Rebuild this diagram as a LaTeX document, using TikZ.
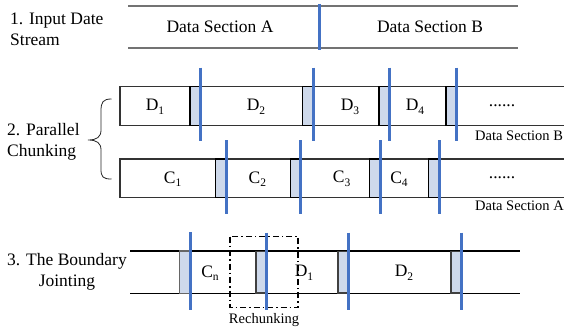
\documentclass[tikz,border=0pt]{standalone}
\usepackage{fontspec}
\setmainfont{Liberation Serif}
\definecolor{bl}{RGB}{68,114,196}
\definecolor{hf}{RGB}{206,217,235}
\newcommand\subn[1]{\raisebox{-0.2em}{\fontsize{11.5}{12}\selectfont #1}}
\begin{document}
\begin{tikzpicture}[x=1pt,y=-1pt,
  blueline/.style={draw=bl,line width=3pt},
  hblock/.style={draw=black,line width=1.1pt,fill=hf},
  hblockd/.style={draw=black!75,line width=1.8pt,fill=hf},
  rowbox/.style={draw=black!80,line width=1.2pt},
  toprow/.style={draw=black!55,line width=1.4pt},
  jointrow/.style={draw=black,line width=1.2pt},
  lbl/.style={font=\fontsize{17.5}{21.5}\selectfont,inner sep=0pt},
  smalllbl/.style={font=\fontsize{14.5}{17}\selectfont,inner sep=0pt},
  dashdot box/.style={draw=black,line width=1.1pt,dash pattern=on 6pt off 3pt on 1.5pt off 3pt}]
\useasboundingbox (0,0) rectangle (564,329);

% ---------- Row 1 ----------
\node[lbl,align=left,anchor=west] (l1) at (10,29.5) {1. Input Date\\Stream};
\draw[toprow] (128,6) -- (518,6);
\draw[toprow] (128,48) -- (518,48);
\draw[blueline] (319,4) -- (319,50);
\node[lbl] (dsa) at (220,27) {Data Section A};
\node[lbl] (dsb) at (430,27) {Data Section B};

% ---------- Row 2 (D) ----------
\node[lbl,align=left,anchor=west] (l2) at (7,142) {2. Parallel\\Chunking};
\draw[black!85,line width=0.8pt] (111.5,99) .. controls (103,99) and (101,102) .. (101,111)
  -- (101,130) .. controls (101,137) and (97,140) .. (88,140)
  .. controls (97,140) and (101,143) .. (101,150)
  -- (101,169) .. controls (101,177) and (103,179) .. (111.5,179);

\draw[rowbox] (570,86.7) -- (120,86.7) -- (120,125.7) -- (570,125.7);
\foreach \a/\b in {190/200.7, 302.7/313.3, 379/389.3, 446/456}{
  \draw[hblock] (\a,86.7) rectangle (\b,125.7);
  \draw[blueline] (\b,67.5) -- (\b,141);
}
\node[lbl] (d1) at (155,107) {D\subn{1}};
\node[lbl] (d2) at (256,107) {D\subn{2}};
\node[lbl] (d3) at (350,107) {D\subn{3}};
\node[lbl] (d4) at (415,107) {D\subn{4}};
\node[lbl] (ddots) at (502,105.5) {......};
\node[smalllbl,anchor=west] (dsbs) at (475,136) {Data Section B};

% ---------- Row 2 (C) ----------
\draw[rowbox] (570,159) -- (120,159) -- (120,197.5) -- (570,197.5);
\foreach \a/\b in {215.7/226.3, 290.3/300.7, 369.5/380.3, 428.5/439}{
  \draw[hblock] (\a,159) rectangle (\b,197.5);
  \draw[blueline] (\b,140) -- (\b,213.5);
}
\node[lbl] (c1) at (172.7,179) {C\subn{1}};
\node[lbl] (c2) at (257.3,179) {C\subn{2}};
\node[lbl] (c3) at (341.7,179) {C\subn{3}};
\node[lbl] (c4) at (399,179) {C\subn{4}};
\node[lbl] (cdots) at (502,177.5) {......};
\node[smalllbl,anchor=west] (dsas) at (475,206) {Data Section A};

% ---------- Row 3 ----------
\node[lbl,align=center] (l3) at (67,272) {3. The Boundary\\Jointing};
\draw[jointrow] (130,251) -- (520,251);
\draw[jointrow] (130,293.7) -- (520,293.7);
\draw[hblock,draw=black!60] (179.3,251) rectangle (190,293.7);
\draw[blueline] (190,232) -- (190,310);
\draw[dashdot box] (230,236.7) rectangle (298,307.7);
\foreach \a/\b in {256/266.7, 337.7/348.7, 450.7/461.3}{
  \draw[hblockd] (\a,251.5) rectangle (\b,292.8);
  \draw[blueline] (\b,232.5) -- (\b,310);
}
\node[lbl] (cn) at (210,273) {C\subn{n}};
\node[lbl] (j1) at (304,273) {D\subn{1}};
\node[lbl] (j2) at (404,273) {D\subn{2}};
\node[smalllbl] (rech) at (264,320) {Rechunking};
\end{tikzpicture}
\end{document}
